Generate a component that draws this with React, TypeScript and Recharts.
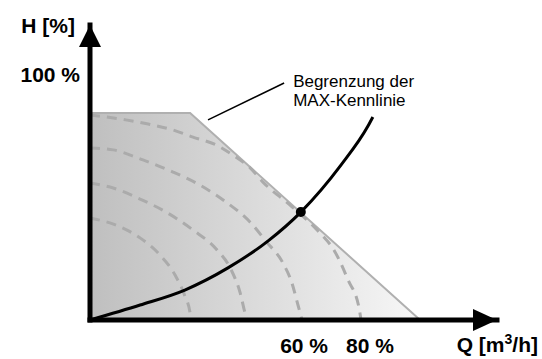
import {
  ComposedChart,
  XAxis,
  YAxis,
  Area,
  Line,
  ReferenceDot,
  ReferenceLine,
} from "recharts";

// Q in % of x-range, H in % (100 % at the tick)
const maxCurve = [
  { q: 0, h: 84.2 },
  { q: 24.6, h: 84.2 },
  { q: 81.1, h: 0 },
];

const speed80 = [
  { q: 0, h: 83.4 },
  { q: 8.8, h: 81.4 },
  { q: 14.3, h: 79.7 },
  { q: 20.4, h: 77.3 },
  { q: 25.3, h: 74.4 },
  { q: 31.0, h: 71.2 },
  { q: 35.1, h: 67.1 },
  { q: 39.3, h: 62.0 },
  { q: 42.5, h: 56.1 },
  { q: 49.1, h: 46.8 },
  { q: 55.8, h: 36.6 },
  { q: 60.2, h: 27.7 },
  { q: 63.4, h: 16.3 },
  { q: 66.1, h: 4.9 },
  { q: 66.6, h: 0 },
];

const speed60 = [
  { q: 0, h: 70.0 },
  { q: 5.7, h: 69.2 },
  { q: 13.0, h: 65.1 },
  { q: 20.4, h: 60.2 },
  { q: 27.0, h: 54.9 },
  { q: 33.4, h: 48.0 },
  { q: 39.3, h: 39.9 },
  { q: 43.2, h: 32.1 },
  { q: 47.4, h: 23.2 },
  { q: 49.6, h: 15.1 },
  { q: 51.1, h: 6.1 },
  { q: 52.1, h: 0 },
];

const speed45 = [
  { q: 0, h: 55.7 },
  { q: 5.7, h: 53.7 },
  { q: 12.3, h: 49.2 },
  { q: 18.7, h: 43.9 },
  { q: 25.3, h: 36.6 },
  { q: 31.0, h: 28.9 },
  { q: 34.6, h: 20.7 },
  { q: 36.9, h: 11.0 },
  { q: 38.1, h: 2.8 },
  { q: 38.6, h: 0 },
];

const speed30 = [
  { q: 0, h: 41.5 },
  { q: 6.4, h: 38.6 },
  { q: 12.3, h: 33.4 },
  { q: 17.2, h: 26.4 },
  { q: 20.9, h: 18.3 },
  { q: 23.3, h: 9.8 },
  { q: 24.6, h: 2.8 },
  { q: 24.8, h: 0 },
];

const systemCurve = [
  { q: 0, h: 0 },
  { q: 12.3, h: 6.1 },
  { q: 23.3, h: 12.2 },
  { q: 33.9, h: 21.2 },
  { q: 43.7, h: 32.1 },
  { q: 51.8, h: 43.9 },
  { q: 61.7, h: 63.1 },
  { q: 68.3, h: 78.9 },
  { q: 69.5, h: 82.6 },
];

const operatingPoint = { q: 51.8, h: 43.9 };

const hTicks = [100];
const hTickLabels = ["100 %"];
const qTicks = [52.6, 68.8];
const qTickLabels = ["60 %", "80 %"];

const noteLines = ["Begrenzung der", "MAX-Kennlinie"];
const noteLeader = [
  { q: 29.0, h: 81.4 },
  { q: 47.7, h: 96.4 },
];

const FONT = "'Liberation Sans', Arial, sans-serif";
const dashedCurves = [speed30, speed45, speed60, speed80];

export default function App() {
  return (
    <div style={{ position: "absolute", left: 0, top: 0, background: "#fff" }}>
      <ComposedChart
        width={542}
        height={359}
        margin={{ top: 25, right: 45, bottom: 9, left: 30 }}
      >
        <defs>
          <linearGradient id="maxFill" x1="0" y1="0" x2="1" y2="0">
            <stop offset="0%" stopColor="#bfbfbf" />
            <stop offset="100%" stopColor="#f7f7f7" />
          </linearGradient>
        </defs>
        <XAxis
          type="number"
          dataKey="q"
          domain={[0, 100]}
          ticks={qTicks}
          height={30}
          tickLine={false}
          axisLine={{ stroke: "#000", strokeWidth: 5, strokeLinecap: "square" }}
          tick={(p: any) => (
            <text
              x={p.x}
              y={p.y + 25}
              textAnchor="middle"
              fontFamily={FONT}
              fontWeight="bold"
              fontSize={21}
              fill="#000"
            >
              {qTickLabels[qTicks.indexOf(p.payload.value)]}
            </text>
          )}
        />
        <YAxis
          type="number"
          dataKey="h"
          domain={[0, 120]}
          ticks={hTicks}
          width={60}
          tickLine={false}
          axisLine={{ stroke: "#000", strokeWidth: 5, strokeLinecap: "square" }}
          tick={(p: any) => (
            <text
              x={p.x - 2}
              y={p.y + 8}
              textAnchor="end"
              fontFamily={FONT}
              fontWeight="bold"
              fontSize={21}
              fill="#000"
            >
              {hTickLabels[hTicks.indexOf(p.payload.value)]}
            </text>
          )}
        />

        <Area
          data={maxCurve}
          dataKey="h"
          type="linear"
          baseValue={0}
          fill="url(#maxFill)"
          fillOpacity={1}
          stroke="#b0b0b0"
          strokeWidth={2}
          isAnimationActive={false}
        />

        {dashedCurves.map((d, i) => (
          <Line
            key={i}
            data={d}
            dataKey="h"
            type="monotone"
            stroke="#ababab"
            strokeWidth={3}
            strokeDasharray="10 7"
            dot={false}
            isAnimationActive={false}
          />
        ))}

        <Line
          data={systemCurve}
          dataKey="h"
          type="monotone"
          stroke="#000"
          strokeWidth={3}
          dot={false}
          isAnimationActive={false}
        />

        <ReferenceDot
          x={operatingPoint.q}
          y={operatingPoint.h}
          r={5}
          fill="#000"
          stroke="none"
          ifOverflow="visible"
        />

        <ReferenceLine
          segment={[
            { x: noteLeader[0].q, y: noteLeader[0].h },
            { x: noteLeader[1].q, y: noteLeader[1].h },
          ]}
          stroke="#000"
          strokeWidth={1.5}
          ifOverflow="visible"
        />
        <ReferenceDot
          x={noteLeader[1].q}
          y={noteLeader[1].h}
          ifOverflow="visible"
          shape={(p: any) => (
            <g>
              {noteLines.map((t, i) => (
                <text
                  key={i}
                  x={p.cx + 9}
                  y={p.cy + 4 + i * 19}
                  fontFamily={FONT}
                  fontSize={17}
                  fill="#000"
                >
                  {t}
                </text>
              ))}
            </g>
          )}
        />

        {/* axis arrowheads + axis titles */}
        <ReferenceDot
          x={100}
          y={0}
          ifOverflow="visible"
          shape={(p: any) => (
            <g>
              <polygon
                points={`${p.cx},${p.cy} ${p.cx - 24},${p.cy - 11} ${p.cx - 24},${p.cy + 11}`}
                fill="#000"
              />
              <text
                x={p.cx + 41}
                y={p.cy + 32}
                textAnchor="end"
                fontFamily={FONT}
                fontWeight="bold"
                fontSize={21}
                fill="#000"
              >
                Q [m
                <tspan dy={-8} fontSize={14}>
                  3
                </tspan>
                <tspan dy={8}>/h]</tspan>
              </text>
            </g>
          )}
        />
        <ReferenceDot
          x={0}
          y={120}
          ifOverflow="visible"
          shape={(p: any) => (
            <g>
              <polygon
                points={`${p.cx},${p.cy} ${p.cx - 11},${p.cy + 22} ${p.cx + 11},${p.cy + 22}`}
                fill="#000"
              />
              <text
                x={p.cx - 15}
                y={p.cy + 8}
                textAnchor="end"
                fontFamily={FONT}
                fontWeight="bold"
                fontSize={21}
                fill="#000"
              >
                H [%]
              </text>
            </g>
          )}
        />
      </ComposedChart>
    </div>
  );
}
